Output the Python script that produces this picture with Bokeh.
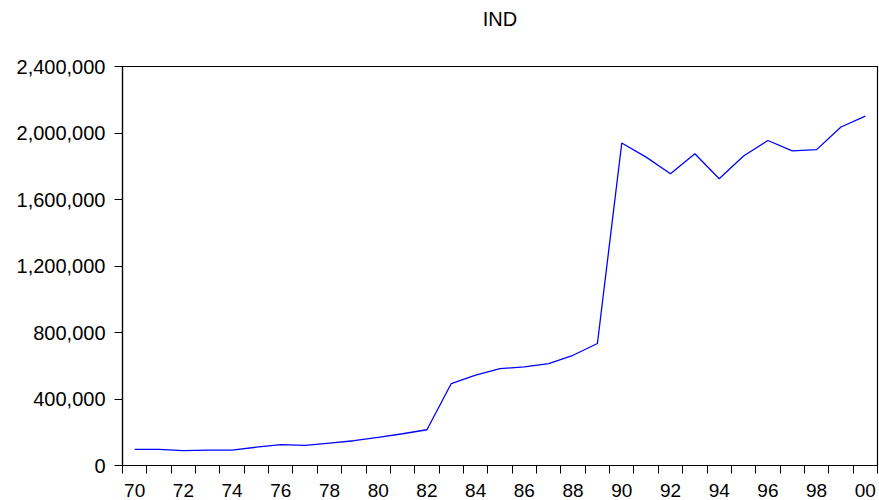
from bokeh.plotting import figure
from bokeh.models import FixedTicker, CustomJSTickFormatter, NumeralTickFormatter, Range1d, ColumnDataSource, Title
from bokeh.embed import file_html
from bokeh.resources import INLINE

years = list(range(1970, 2001))
ind = [97000, 97000, 89000, 92000, 93000, 110000, 125000, 121000, 135000, 149000,
       169000, 191000, 215000, 493000, 543000, 583000, 593000, 613000, 663000, 734000,
       1940000, 1855000, 1755000, 1875000, 1725000, 1862000, 1955000, 1893000, 1900000,
       2036000, 2102000]
y_ticks = [0, 400000, 800000, 1200000, 1600000, 2000000, 2400000]

FONT = "Liberation Sans"

p = figure(width=879, height=500, output_backend="svg", toolbar_location=None,
           title=None, min_border_left=122, min_border_right=2,
           min_border_top=0, min_border_bottom=35)
p.x_range = Range1d(1970, 2001)
p.y_range = Range1d(0, 2400000)

src = ColumnDataSource(dict(x=[y + 0.5 for y in years], y=ind))
p.line("x", "y", source=src, line_color="#0000ff", line_width=1.3)

# spacer below the title, then the title itself
p.add_layout(Title(text=" ", text_font=FONT, text_font_size="20px", standoff=8), "above")
p.add_layout(Title(text="IND", align="center", text_font=FONT, text_font_size="20px",
                   text_font_style="normal", text_color="#000000", standoff=10), "above")

p.grid.visible = False
p.outline_line_color = "#000000"
p.outline_line_width = 1.2
p.outline_line_alpha = 1.0
p.background_fill_color = "white"
p.border_fill_color = "white"

xa = p.xaxis[0]
xa.ticker = FixedTicker(ticks=[y + 0.5 for y in years if y % 2 == 0],
                        minor_ticks=list(range(1970, 2002)))
xa.formatter = CustomJSTickFormatter(code="""
    const yr = Math.floor(tick) % 100;
    return (yr < 10 ? '0' : '') + yr;
""")
xa.major_tick_out = 0
xa.major_tick_in = 0
xa.minor_tick_out = 8
xa.minor_tick_in = 0
xa.minor_tick_line_color = "#000000"
xa.axis_line_color = "#000000"
xa.axis_line_width = 1.2
xa.major_label_text_font = FONT
xa.major_label_text_font_size = "19px"
xa.major_label_text_color = "#000000"
xa.major_label_standoff = 10

ya = p.yaxis[0]
ya.ticker = FixedTicker(ticks=y_ticks, minor_ticks=[])
ya.formatter = NumeralTickFormatter(format="0,0")
ya.major_tick_out = 8
ya.major_tick_in = 0
ya.major_tick_line_color = "#000000"
ya.minor_tick_out = 0
ya.minor_tick_in = 0
ya.axis_line_color = "#000000"
ya.axis_line_width = 1.2
ya.major_label_text_font = FONT
ya.major_label_text_font_size = "20px"
ya.major_label_text_color = "#000000"
ya.major_label_standoff = 9

open("out.html", "w").write(file_html(p, INLINE))
